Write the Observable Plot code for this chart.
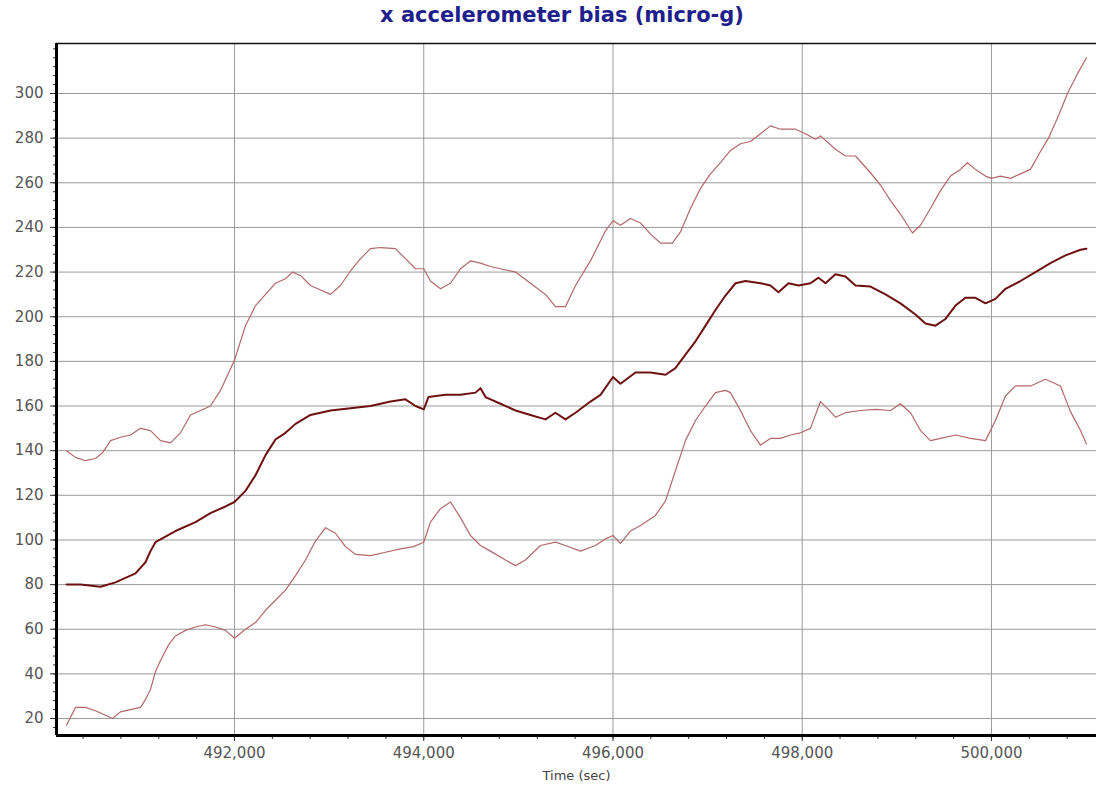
<!DOCTYPE html>
<html>
<head>
<meta charset="utf-8">
<script src="https://cdn.jsdelivr.net/npm/d3@7"></script>
<script src="https://cdn.jsdelivr.net/npm/@observablehq/plot@0.6"></script>
<style>
  html, body { margin: 0; padding: 0; background: #fff; }
  #title { width: 1096px; height: 30px; line-height: 30px; text-align: center; box-sizing: border-box; padding-left: 28px;
    font-family: "DejaVu Sans", Verdana, sans-serif; font-weight: bold; font-size: 21px; color: #1e1e8c; }
</style>
</head>
<body>
<div id="title">x accelerometer bias (micro-g)</div>
<div id="chart"></div>
<script>
// ---- data ----
const midTime = [490225,490373,490584,490742,490848,490954,491059,491112,491165,491376,491588,491746,491905,492000,492116,492222,492328,492433,492539,492645,492803,493015,493226,493437,493649,493807,493913,494000,494050,494230,494388,494547,494600,494653,494811,494970,495128,495287,495392,495498,495604,495762,495868,496000,496079,496238,496396,496555,496660,496766,496872,496978,497083,497189,497295,497400,497559,497664,497749,497855,497960,498087,498172,498246,498351,498457,498563,498721,498880,499038,499197,499302,499408,499514,499620,499725,499831,499937,500042,500148,500306,500465,500623,500782,500941,501004];
const midVal  = [80,80,79,81,83,85,90,95,99,104,108,112,115,117,122,129,138,145,148,152,156,158,159,160,162,163,160,158.5,164,165,165,166,168,164,161,158,156,154,157,154,157,162,165,173,170,175,175,174,177,183,189,196,203,209.5,215,216,215,214,211,215,214,215,217.5,215,219,218,214,213.5,210,206,201,197,196,199,205,208.5,208.5,206,208,212.5,216,220,224,227.5,230,230.5];

const upTime = [490225,490320,490425,490531,490605,490690,490795,490901,491007,491112,491218,491324,491429,491535,491641,491746,491852,492000,492116,492222,492328,492433,492539,492613,492697,492803,492909,493015,493120,493226,493332,493437,493543,493701,493807,493913,494000,494071,494177,494283,494388,494494,494600,494705,494811,494970,495128,495287,495392,495498,495604,495762,495921,496000,496079,496185,496291,496396,496502,496629,496713,496819,496925,497030,497136,497242,497347,497453,497559,497664,497770,497929,498034,498140,498193,498351,498457,498563,498721,498827,498933,499038,499165,499250,499355,499461,499567,499672,499746,499831,499937,500000,500095,500201,500306,500412,500518,500602,500708,500803,500898,501004];
const upVal  = [140,137,135.5,136.5,139,144.5,146,147,150,149,144.5,143.5,148,156,158,160,167,180.5,196,205,210,215,217,220,218.5,214,212,210,214,220.5,226,230.5,231,230.5,226,221.5,221.5,216,212.5,215,221.5,225,224,222.5,221.5,220,215,210,204.5,204.5,214,225,238.5,243,241,244,242,237,233,233,238,248.5,257.5,264,269,274.5,277.5,278.5,282,285.5,284,284,282,279.5,281,275,272,272,264.5,259,252,246,237.5,241,248.5,256.5,263,266,269,266,263,262,263,262,264,266,274,280,290,300,308,316];

const lowTime = [490225,490320,490425,490531,490637,490711,490795,490901,491007,491059,491112,491165,491218,491303,491376,491482,491588,491694,491799,491905,492000,492116,492222,492328,492433,492539,492645,492750,492856,492962,493067,493173,493279,493437,493596,493754,493892,494000,494071,494177,494283,494388,494494,494600,494705,494864,494970,495075,495234,495392,495498,495657,495815,495921,496000,496079,496185,496291,496449,496555,496660,496766,496872,496978,497083,497189,497242,497347,497453,497559,497664,497770,497876,497981,498087,498193,498277,498351,498457,498616,498774,498933,499038,499144,499250,499355,499461,499620,499778,499937,500042,500148,500254,500412,500571,500729,500835,500941,501004];
const lowVal  = [17,25,25,23.5,21.5,20,23,24,25,28.5,33,41,46,53,57,59.5,61,62,61,59.5,56,60,63,68.5,73,77.5,84,91,99.5,105.5,103,97,93.5,93,94.5,96,97,99,108,114,117,110,102,97.5,95,91,88.5,91,97.5,99,97.5,95,97.5,100.5,102,98.5,104,106.5,111,117.5,131,144.5,153.5,160,166,167,166,158,149,142.5,145.5,145.5,147,148,150,162,158.5,155,157,158,158.5,158,161,157,149,144.5,145.5,147,145.5,144.5,153.5,164.5,169,169,172,169,157.5,149,143];

const yTicks = d3.range(20, 301, 20);
const yMinor = d3.range(16, 321, 4);
const xTicks = [492000, 494000, 496000, 498000, 500000];
const xMinor = d3.range(490400, 501100, 400);
const xDomain = [490119, 501110];
const yDomain = [12.4, 322.4];

const toRows = (t, v) => t.map((d, i) => ({time: d, value: v[i]}));
const mid = toRows(midTime, midVal);
const up = toRows(upTime, upVal);
const low = toRows(lowTime, lowVal);

const font = '"DejaVu Sans", Verdana, sans-serif';
const chart = Plot.plot({
  width: 1096,
  height: 758,
  marginLeft: 56,
  marginRight: 0,
  marginTop: 13,
  marginBottom: 53,
  style: {fontFamily: font, background: "#fff", overflow: "visible"},
  x: {domain: xDomain},
  y: {domain: yDomain},
  marks: [
    Plot.gridY(yTicks, {stroke: "#9a9a9a", strokeOpacity: 1, strokeWidth: 1}),
    Plot.gridX(xTicks, {stroke: "#9a9a9a", strokeOpacity: 1, strokeWidth: 1}),
    Plot.axisY(yMinor, {tickSize: 3, text: null, stroke: "#333", label: null}),
    Plot.axisY(yTicks, {tickSize: 6, tickPadding: 7, fontSize: 15, fill: "#555", stroke: "#333", label: null}),
    Plot.axisX(xMinor, {tickSize: 4, text: null, stroke: "#333", label: null}),
    Plot.axisX(xTicks, {tickSize: 6, tickPadding: 6, fontSize: 15, fill: "#555", stroke: "#333",
      tickFormat: d3.format(","), label: "Time (sec)", labelAnchor: "center", labelOffset: 44, labelArrow: "none"}),
    Plot.line(up, {x: "time", y: "value", stroke: "#b26868", strokeWidth: 1.2}),
    Plot.line(low, {x: "time", y: "value", stroke: "#b26868", strokeWidth: 1.2}),
    Plot.line(mid, {x: "time", y: "value", stroke: "#6e1010", strokeWidth: 2}),
    Plot.ruleY([yDomain[1]], {stroke: "#111", strokeWidth: 1.5}),
    Plot.ruleX([xDomain[0]], {stroke: "#000", strokeWidth: 3}),
    Plot.ruleY([yDomain[0]], {stroke: "#000", strokeWidth: 3})
  ]
});
document.getElementById("chart").appendChild(chart);
// style the axis title
chart.querySelectorAll("text").forEach(t => {
  if (t.textContent === "Time (sec)") { t.setAttribute("font-size", "13"); t.setAttribute("fill", "#444"); }
});
</script>
</body>
</html>
